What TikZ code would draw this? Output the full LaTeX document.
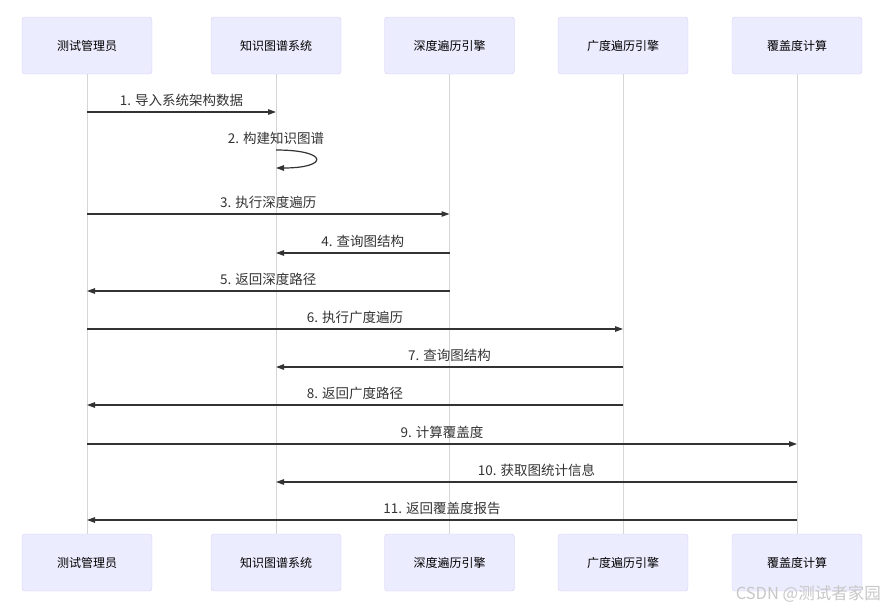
\documentclass[tikz,border=0pt]{standalone}
\usepackage{fontspec}
\newfontfamily\cjk{Noto Sans CJK SC}
\usetikzlibrary{arrows.meta,positioning}
\definecolor{actorfill}{HTML}{ECECFF}
\definecolor{actorline}{HTML}{D6CCF4}
\definecolor{lifeline}{HTML}{D6D6D6}
\definecolor{msgline}{HTML}{333333}
\tikzset{
	actor/.style={draw=actorline, fill=actorfill, rounded corners=3pt, minimum width=130pt, minimum height=57pt, inner sep=0pt, font=\cjk\fontsize{12}{14}\selectfont, text=black},
	life/.style={draw=lifeline, line width=1pt},
	msg/.style={draw=msgline, line width=1.2pt, -{Triangle[length=8pt,width=5.5pt]}},
	lbl/.style={midway, yshift=12pt, font=\cjk\fontsize{13.5}{15}\selectfont, text=msgline},
}
\begin{document}
\begin{tikzpicture}[x=1pt, y=-1pt]
	\useasboundingbox (0,0) rectangle (886,608);
	% actors, top
	\node[actor] (tstT) at (87, 45.5){测试管理员};
	\node[actor] (kgT) at (276, 45.5){知识图谱系统};
	\node[actor] (dfsT) at (449.5, 45.5){深度遍历引擎};
	\node[actor] (bfsT) at (623, 45.5){广度遍历引擎};
	\node[actor] (covT) at (797, 45.5){覆盖度计算};
	% actors, bottom
	\node[actor] (tstB) at (87, 562.5){测试管理员};
	\node[actor] (kgB) at (276, 562.5){知识图谱系统};
	\node[actor] (dfsB) at (449.5, 562.5){深度遍历引擎};
	\node[actor] (bfsB) at (623, 562.5){广度遍历引擎};
	\node[actor] (covB) at (797, 562.5){覆盖度计算};
	% lifelines
	\draw[life](tstT)--(tstB);
	\draw[life](kgT)--(kgB);
	\draw[life](dfsT)--(dfsB);
	\draw[life](bfsT)--(bfsB);
	\draw[life](covT)--(covB);
	% message rows
	\coordinate (m1) at (0, 112);
	\coordinate (m2a) at (0, 150);
	\coordinate (m2b) at (0, 168);
	\coordinate (m3) at (0, 214);
	\coordinate (m4) at (0, 253);
	\coordinate (m5) at (0, 291);
	\coordinate (m6) at (0, 329);
	\coordinate (m7) at (0, 367);
	\coordinate (m8) at (0, 405);
	\coordinate (m9) at (0, 444);
	\coordinate (m10) at (0, 482);
	\coordinate (m11) at (0, 520);
	% messages
	\draw[msg](tstT |- m1)--(kgT |- m1)node[lbl]{1. 导入系统架构数据};
	\draw[msg](kgT |- m2a) .. controls +(53,0) and +(53,0) .. (kgT |- m2b);
	\node[font=\cjk\fontsize{13.5}{15}\selectfont, text=msgline] (l2) at (276, 138){2. 构建知识图谱};
	\draw[msg](tstT |- m3)--(dfsT |- m3)node[lbl]{3. 执行深度遍历};
	\draw[msg](dfsT |- m4)--(kgT |- m4)node[lbl]{4. 查询图结构};
	\draw[msg](dfsT |- m5)--(tstT |- m5)node[lbl]{5. 返回深度路径};
	\draw[msg](tstT |- m6)--(bfsT |- m6)node[lbl]{6. 执行广度遍历};
	\draw[msg](bfsT |- m7)--(kgT |- m7)node[lbl]{7. 查询图结构};
	\draw[msg](bfsT |- m8)--(tstT |- m8)node[lbl]{8. 返回广度路径};
	\draw[msg](tstT |- m9)--(covT |- m9)node[lbl]{9. 计算覆盖度};
	\draw[msg](covT |- m10)--(kgT |- m10)node[lbl]{10. 获取图统计信息};
	\draw[msg](covT |- m11)--(tstT |- m11)node[lbl]{11. 返回覆盖度报告};
	% watermark
	\node[anchor=east, font=\cjk\fontsize{16.5}{18}\selectfont, text=black!22, inner sep=0pt] (wm) at (881, 594){CSDN @测试者家园};
\end{tikzpicture}
\end{document}
